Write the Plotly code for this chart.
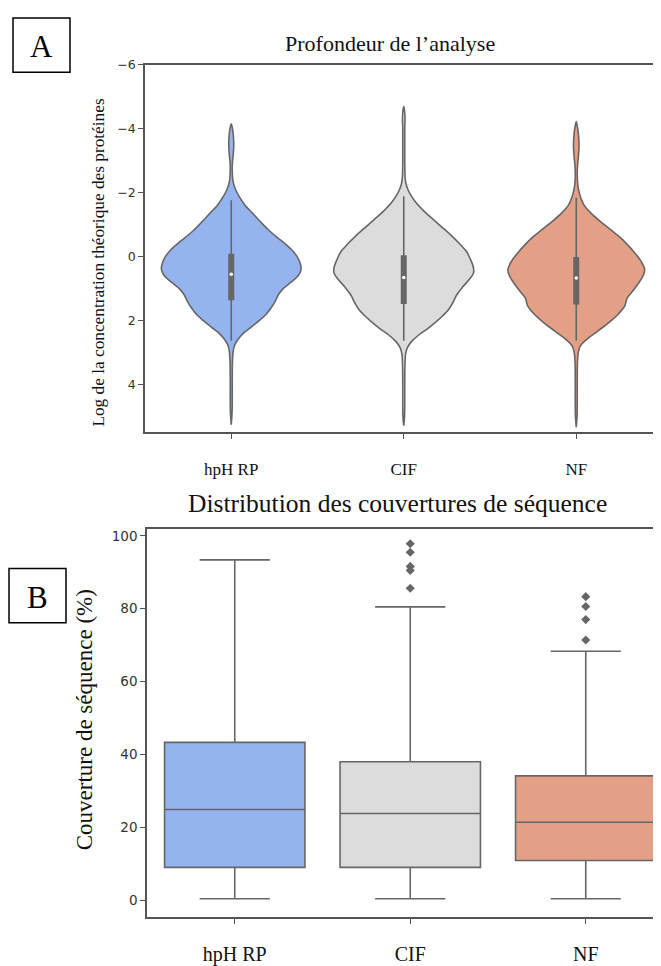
import plotly.graph_objects as go

# ---------------- data ----------------
CATEGORIES = ["hpH RP", "CIF", "NF"]
COLORS = ["#94b3ef", "#dcdcdc", "#e4a086"]

# Panel A: violin outlines (level, relative half-width)
HPH_LEVELS = [-4.15, -3.95, -3.7, -3.45, -3.2, -2.95, -2.7, -2.45, -2.25, -2.05, -1.85, -1.6, -1.4, -1.2,
              -1.0, -0.8, -0.6, -0.4, -0.2, 0.0, 0.2, 0.4, 0.6, 0.8, 1.0, 1.2, 1.4, 1.6, 1.8, 2.0, 2.2,
              2.4, 2.6, 2.8, 3.0, 3.3, 3.8, 4.3, 4.8, 5.25]
HPH_DENS = [0.0, 1.5, 2.3, 2.5, 2.0, 1.2, 1.0, 1.4, 2.6, 5.0, 8.5, 14, 20, 26, 32, 38.5, 46, 54, 61, 66,
            69, 70, 67, 60, 52, 47, 44, 40, 35, 28, 20, 12, 6.5, 3.0, 1.8, 1.2, 1.0, 1.0, 0.9, 0.0]

CIF_LEVELS = [-4.7, -4.4, -4.0, -3.5, -3.0, -2.6, -2.35, -2.15, -1.95, -1.7, -1.4, -1.15, -0.9, -0.65,
              -0.4, -0.15, 0.1, 0.3, 0.5, 0.7, 0.95, 1.2, 1.45, 1.65, 1.85, 2.05, 2.25, 2.45, 2.65, 2.85,
              3.05, 3.4, 4.0, 4.6, 5.0, 5.28]
CIF_DENS = [0.0, 1.2, 1.0, 1.0, 1.0, 1.2, 1.8, 3.5, 6.5, 12, 21, 30, 39, 48, 56, 63, 67, 69.5, 70, 66,
            59, 53, 49, 45, 39, 32, 24, 15, 8, 3.5, 1.8, 1.2, 1.0, 1.0, 0.8, 0.0]

NF_LEVELS = [-4.22, -4.0, -3.75, -3.45, -3.15, -2.85, -2.55, -2.25, -2.0, -1.8, -1.6, -1.35, -1.1, -0.85,
             -0.6, -0.35, -0.1, 0.15, 0.4, 0.6, 0.85, 1.1, 1.3, 1.55, 1.8, 2.0, 2.2, 2.4, 2.6, 2.8, 3.0,
             3.3, 3.9, 4.5, 5.0, 5.33]
NF_DENS = [0.0, 1.5, 2.4, 2.8, 2.2, 1.3, 1.0, 1.5, 3.0, 5.0, 8.0, 15, 24, 34, 44, 52, 59, 65, 68.5, 67,
           62, 56, 51, 48.5, 42, 35, 27, 18.5, 10, 4.0, 2.0, 1.2, 1.0, 1.0, 0.8, 0.0]

VIOLIN_Q1 = [-0.09, -0.04, 0.01]
VIOLIN_MED = [0.55, 0.65, 0.67]
VIOLIN_Q3 = [1.36, 1.48, 1.50]
VIOLIN_WLO = [-1.76, -1.89, -1.84]
VIOLIN_WHI = [2.63, 2.63, 2.63]

# Panel B: box statistics (sequence coverage, %)
BOX_LOW = [0.4, 0.4, 0.4]
BOX_Q1 = [9.0, 9.0, 10.9]
BOX_MED = [24.9, 23.8, 21.4]
BOX_Q3 = [43.3, 38.0, 34.1]
BOX_HIGH = [93.4, 80.5, 68.3]
OUTLIERS_CIF = [97.8, 95.5, 91.6, 90.5, 85.6]
OUTLIERS_NF = [83.3, 80.6, 77.0, 71.4]

A_TICKS = [-6, -4, -2, 0, 2, 4]
B_TICKS = [0, 20, 40, 60, 80, 100]

# ---------------- figure ----------------
OFFX, OFFY = 8, 8  # default page body margin
W, H = 661 - OFFX, 966 - OFFY
GREY = "#666666"
AXC = "#555555"
SERIF = "Liberation Serif, Times New Roman, serif"
SANS = "DejaVu Sans, sans-serif"


def xp(px):
    return (px - OFFX) / W


def yp(py):
    return 1 - (py - OFFY) / H


fig = go.Figure()

profiles = [(HPH_LEVELS, HPH_DENS), (CIF_LEVELS, CIF_DENS), (NF_LEVELS, NF_DENS)]
MAXD = max(max(HPH_DENS), max(CIF_DENS), max(NF_DENS))
HALF = 0.405
for i, (lev, dens) in enumerate(profiles):
    xs = [i - d / MAXD * HALF for d in dens] + [i + d / MAXD * HALF for d in dens[::-1]]
    ys = list(lev) + list(lev[::-1])
    fig.add_trace(go.Scatter(x=xs, y=ys, mode="lines", fill="toself", fillcolor=COLORS[i],
                             line=dict(color=GREY, width=1.6, shape="spline", smoothing=1.0),
                             xaxis="x", yaxis="y", showlegend=False, hoverinfo="skip"))
    fig.add_trace(go.Scatter(x=[i, i], y=[VIOLIN_WLO[i], VIOLIN_WHI[i]], mode="lines",
                             line=dict(color=GREY, width=1.6), xaxis="x", yaxis="y",
                             showlegend=False, hoverinfo="skip"))
    fig.add_trace(go.Scatter(x=[i, i], y=[VIOLIN_Q1[i], VIOLIN_Q3[i]], mode="lines",
                             line=dict(color=GREY, width=6), xaxis="x", yaxis="y",
                             showlegend=False, hoverinfo="skip"))
    fig.add_trace(go.Scatter(x=[i], y=[VIOLIN_MED[i]], mode="markers",
                             marker=dict(color="white", size=3.5, line=dict(width=0)),
                             xaxis="x", yaxis="y", showlegend=False, hoverinfo="skip"))

for i in range(3):
    fig.add_trace(go.Box(x=[i], q1=[BOX_Q1[i]], median=[BOX_MED[i]], q3=[BOX_Q3[i]],
                         lowerfence=[BOX_LOW[i]], upperfence=[BOX_HIGH[i]],
                         width=0.8, whiskerwidth=0.5, fillcolor=COLORS[i],
                         line=dict(color=GREY, width=1.6), boxpoints=False,
                         xaxis="x2", yaxis="y2", showlegend=False))

for i, outl in [(1, OUTLIERS_CIF), (2, OUTLIERS_NF)]:
    fig.add_trace(go.Scatter(x=[i] * len(outl), y=outl, mode="markers",
                             marker=dict(symbol="diamond", size=7, color=GREY, line=dict(width=0)),
                             xaxis="x2", yaxis="y2", showlegend=False))

# ---- geometry (reference pixels from top-left of the window) ----
A_L, A_T, A_B = 145, 57.3, 430
B_L, B_T, B_B = 147, 528.3, 921.7
A_X_MAX = (661 - A_L) / 172.5 - 0.5
B_X_MAX = (661 - B_L) / 175.5 - 0.5

axis_common = dict(showline=True, linecolor=AXC, linewidth=1.5, ticks="outside", ticklen=5,
                   tickwidth=1.2, tickcolor=AXC, showgrid=False, zeroline=False)

fig.update_layout(
    width=W, height=H, autosize=False,
    margin=dict(l=0, r=0, t=0, b=0),
    paper_bgcolor="white", plot_bgcolor="white",
    xaxis=dict(domain=[xp(A_L), 1], range=[-0.5, A_X_MAX], tickvals=[0, 1, 2], ticktext=CATEGORIES,
               mirror=True, anchor="y", ticklabelstandoff=16,
               tickfont=dict(family=SERIF, size=17, color="#111111"), **axis_common),
    yaxis=dict(domain=[yp(A_B), yp(A_T)], range=[5.49, -6], tickvals=A_TICKS, anchor="x",
               tickfont=dict(family=SANS, size=12.5, color="#333333"), **axis_common),
    xaxis2=dict(domain=[xp(B_L), 1], range=[-0.5, B_X_MAX], tickvals=[0, 1, 2], ticktext=CATEGORIES,
                mirror=True, anchor="y2", ticklabelstandoff=13,
                tickfont=dict(family=SERIF, size=20, color="#111111"), **axis_common),
    yaxis2=dict(domain=[yp(B_B), yp(B_T)], range=[-4.7, 101.8], tickvals=B_TICKS, anchor="x2",
                tickfont=dict(family=SANS, size=13.5, color="#333333"), **axis_common),
)

ann = [
    dict(text="Profondeur de l\u2019analyse", x=xp(390), y=yp(36), font=dict(family=SERIF, size=22, color="#111111")),
    dict(text="Distribution des couvertures de séquence", x=xp(397), y=yp(502),
         font=dict(family=SERIF, size=25.5, color="#111111")),
    dict(text="Log de la concentration théorique des protéines", x=xp(99), y=yp(258), textangle=-90,
         font=dict(family=SERIF, size=17.3, color="#111111")),
    dict(text="Couverture de séquence (%)", x=xp(84), y=yp(722), textangle=-90,
         font=dict(family=SERIF, size=23, color="#111111")),
    dict(text="A", x=xp(41.5), y=yp(39), font=dict(family=SERIF, size=31, color="#000000")),
    dict(text="B", x=xp(37.5), y=yp(597), font=dict(family=SERIF, size=31, color="#000000")),
]
for a in ann:
    a.update(xref="paper", yref="paper", xanchor="center", yanchor="middle", showarrow=False)
fig.update_layout(annotations=ann)

fig.update_layout(shapes=[
    dict(type="rect", xref="paper", yref="paper", x0=xp(13), x1=xp(70), y0=yp(65), y1=yp(10),
         line=dict(color="black", width=1.5)),
    dict(type="rect", xref="paper", yref="paper", x0=xp(9), x1=xp(66), y0=yp(623), y1=yp(568),
         line=dict(color="black", width=1.5)),
])

fig.write_html("out.html")
